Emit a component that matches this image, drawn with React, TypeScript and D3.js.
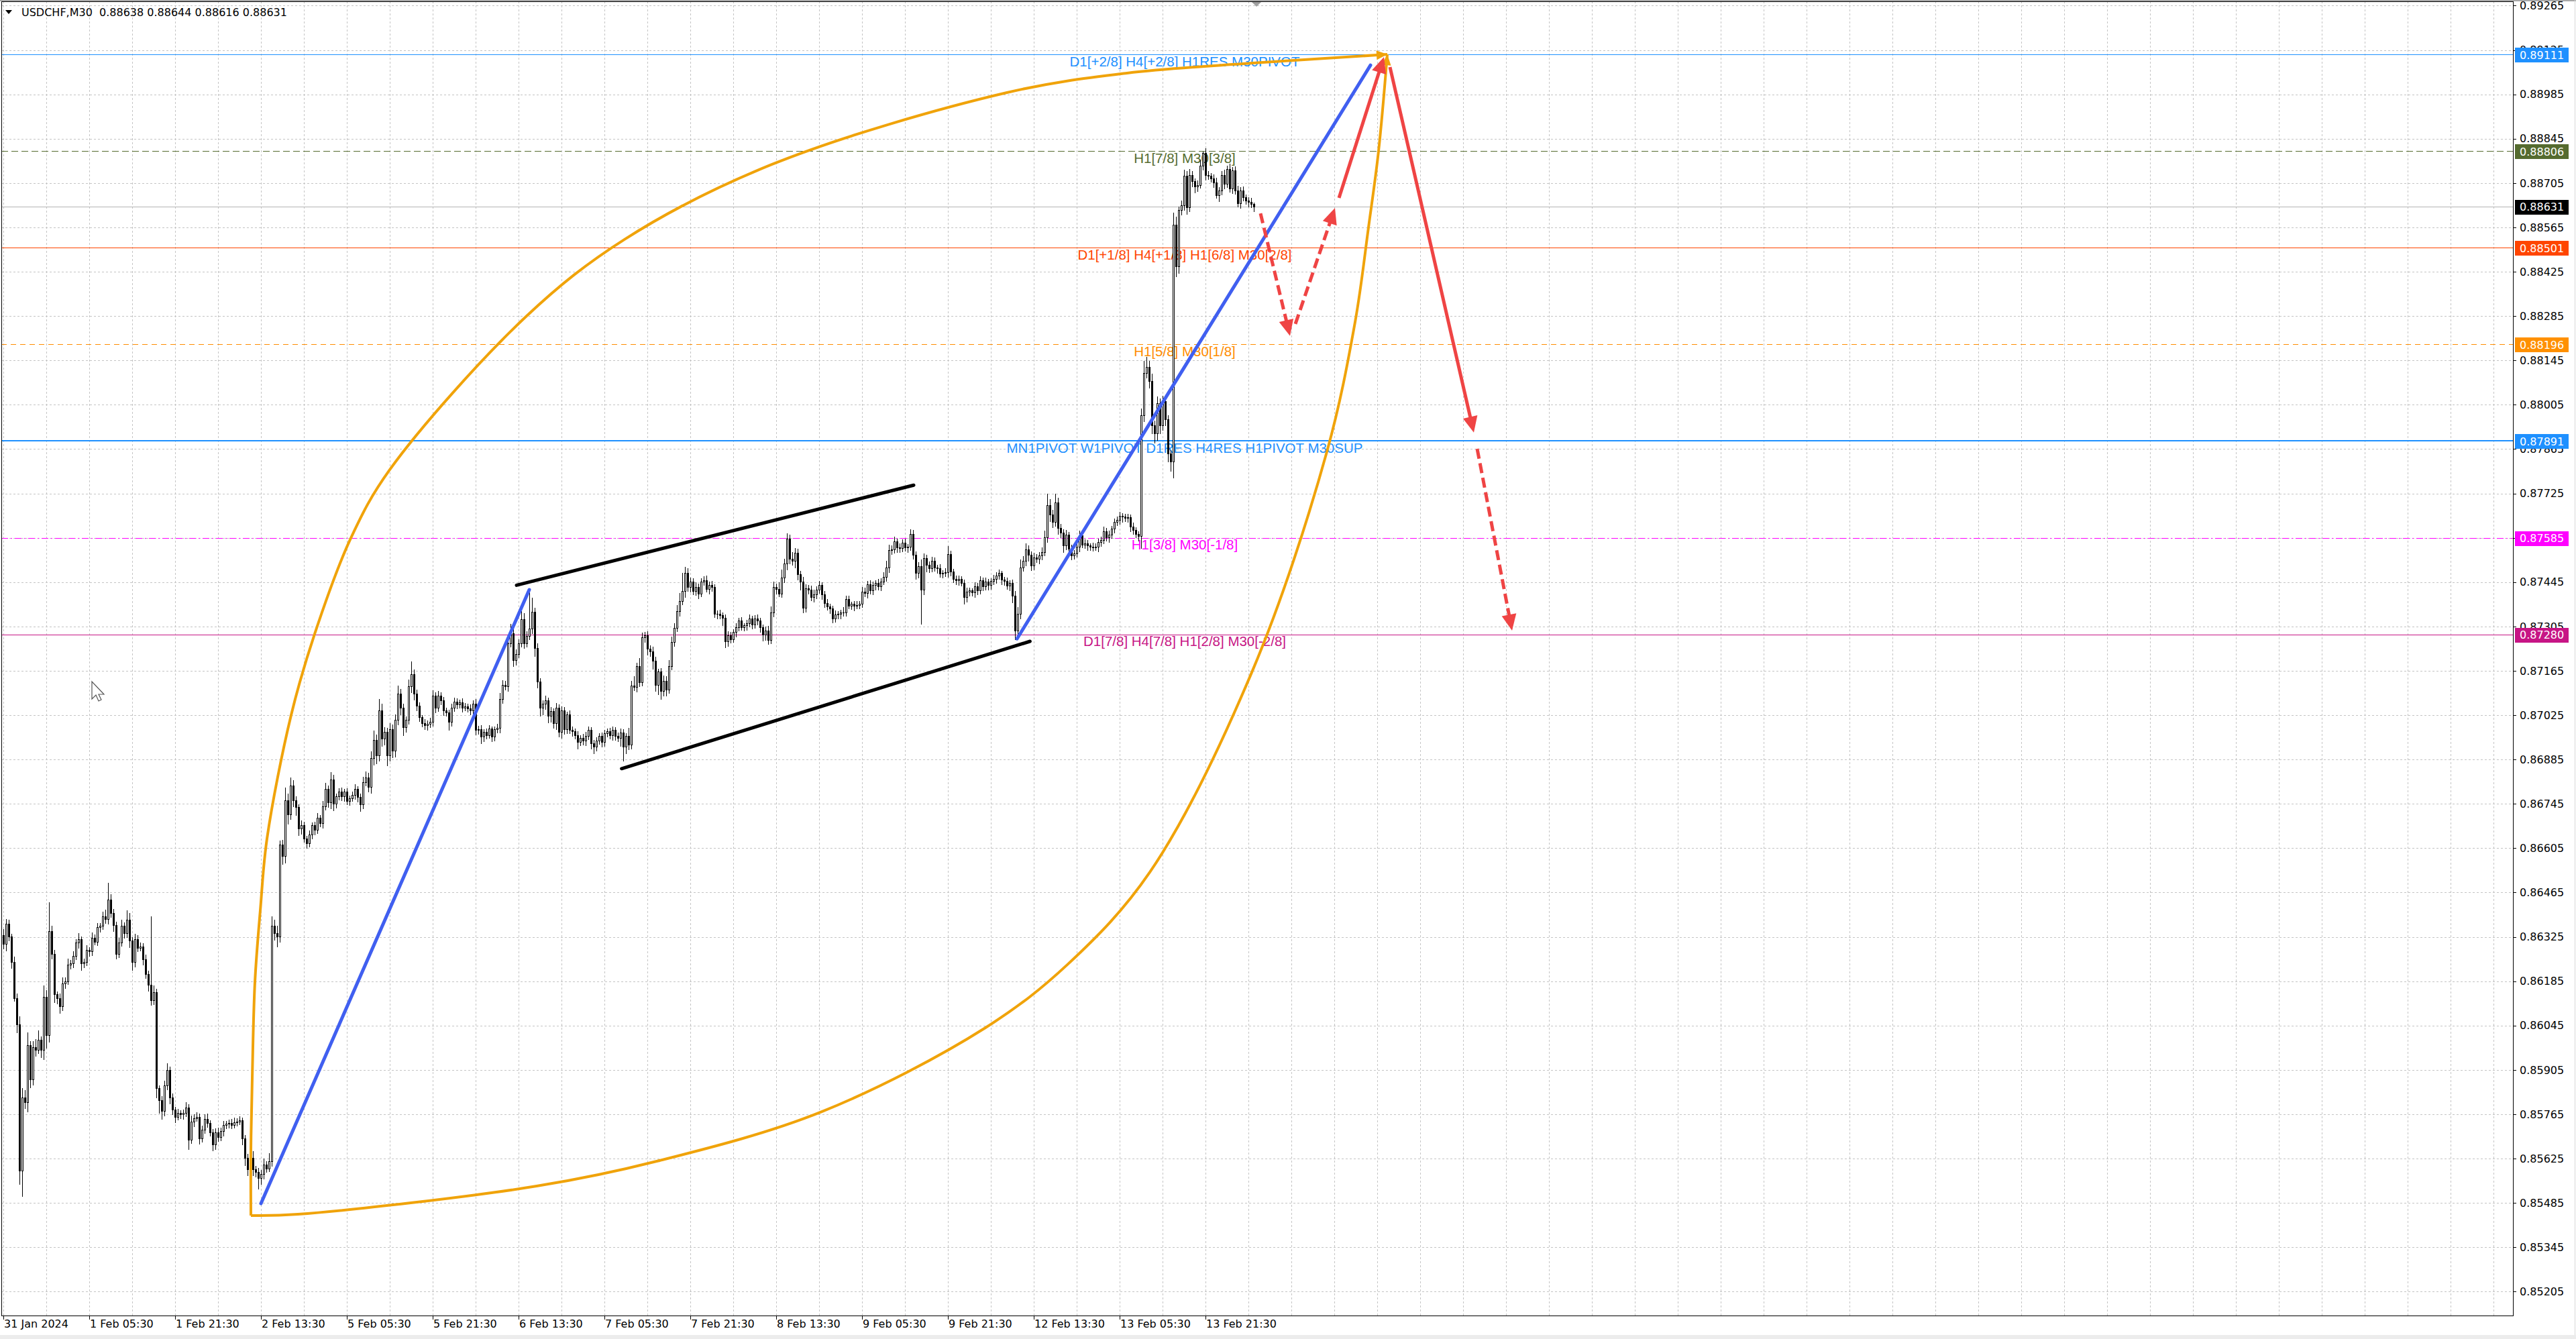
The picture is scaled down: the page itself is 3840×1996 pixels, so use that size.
import React from "react";
import * as d3 from "d3";

const WIDTH = 3840;
const HEIGHT = 1996;

const titleText = "USDCHF,M30  0.88638 0.88644 0.88616 0.88631";

const priceTicks = [0.89265, 0.89125, 0.88985, 0.88845, 0.88705, 0.88565, 0.88425, 0.88285, 0.88145, 0.88005, 0.87865, 0.87725, 0.87585, 0.87445, 0.87305, 0.87165, 0.87025, 0.86885, 0.86745, 0.86605, 0.86465, 0.86325, 0.86185, 0.86045, 0.85905, 0.85765, 0.85625, 0.85485, 0.85345, 0.85205];

const timeLabels = ["31 Jan 2024", "1 Feb 05:30", "1 Feb 21:30", "2 Feb 13:30", "5 Feb 05:30", "5 Feb 21:30", "6 Feb 13:30", "7 Feb 05:30", "7 Feb 21:30", "8 Feb 13:30", "9 Feb 05:30", "9 Feb 21:30", "12 Feb 13:30", "13 Feb 05:30", "13 Feb 21:30"];
const timeLabelBars = [0, 32, 64, 96, 128, 160, 192, 224, 256, 288, 320, 352, 384, 416, 448];

// candle data: price = 0.8 + v / 100000
const FIRST_OPEN = 6330;
const CLOSE = [
  6302, 6366, 6325, 6245, 6132, 6048, 5587, 5818, 5803, 5984,
  5874, 5977, 5969, 6000, 5969, 6136, 6014, 6344, 6272, 6143,
  6132, 6105, 6177, 6185, 6238, 6241, 6264, 6306, 6317, 6241,
  6245, 6283, 6279, 6321, 6310, 6355, 6359, 6389, 6381, 6442,
  6400, 6363, 6272, 6306, 6359, 6336, 6378, 6313, 6245, 6317,
  6291, 6294, 6253, 6207, 6173, 6124, 6151, 5848, 5810, 5776,
  5856, 5905, 5818, 5780, 5757, 5768, 5765, 5768, 5787, 5685,
  5742, 5753, 5757, 5689, 5716, 5750, 5738, 5708, 5670, 5708,
  5693, 5712, 5731, 5735, 5738, 5731, 5740, 5742, 5746, 5689,
  5628, 5591, 5628, 5591, 5583, 5564, 5576, 5606, 5594, 5617,
  6359, 6336, 6325, 6616, 6580, 6757, 6711, 6802, 6757, 6734,
  6666, 6677, 6636, 6620, 6647, 6677, 6662, 6700, 6685, 6738,
  6791, 6749, 6821, 6745, 6768, 6783, 6768, 6783, 6753, 6763,
  6772, 6791, 6766, 6743, 6813, 6828, 6798, 6889, 6946, 6897,
  7040, 6950, 6972, 6897, 6980, 6912, 7010, 7093, 7048, 6987,
  7010, 7116, 7154, 7093, 7055, 7018, 7000, 6993, 6997, 7003,
  7086, 7048, 7086, 7071, 7040, 7033, 7003, 7048, 7068, 7058,
  7065, 7048, 7053, 7046, 7040, 7061, 6978, 6981, 6957, 6972,
  6962, 6982, 6957, 6980, 6985, 7076, 7121, 7116, 7252, 7283,
  7199, 7217, 7252, 7328, 7252, 7275, 7298, 7351, 7237, 7131,
  7048, 7060, 7071, 7022, 7038, 7000, 7048, 6972, 7040, 6980,
  7028, 6978, 6975, 6962, 6940, 6952, 6944, 6959, 6978, 6937,
  6925, 6944, 6959, 6940, 6967, 6975, 6962, 6978, 6959, 6952,
  6970, 6925, 6959, 6932, 7118, 7114, 7179, 7129, 7270, 7277,
  7235, 7227, 7197, 7121, 7162, 7101, 7134, 7106, 7179, 7255,
  7300, 7353, 7386, 7417, 7474, 7429, 7447, 7417, 7429, 7409,
  7447, 7451, 7424, 7436, 7429, 7345, 7345, 7341, 7333, 7258,
  7277, 7265, 7288, 7303, 7323, 7303, 7308, 7315, 7330, 7311,
  7330, 7323, 7303, 7280, 7292, 7262, 7348, 7429, 7424, 7409,
  7459, 7504, 7582, 7519, 7512, 7538, 7470, 7447, 7364, 7426,
  7421, 7398, 7406, 7421, 7436, 7406, 7379, 7368, 7361, 7330,
  7343, 7345, 7348, 7350, 7391, 7371, 7376, 7371, 7373, 7376,
  7415, 7411, 7439, 7418, 7436, 7443, 7432, 7447, 7461, 7492,
  7545, 7548, 7573, 7555, 7552, 7569, 7555, 7557, 7597, 7531,
  7475, 7496, 7422, 7520, 7499, 7489, 7513, 7492, 7489, 7471,
  7473, 7476, 7534, 7478, 7454, 7451, 7455, 7443, 7397, 7415,
  7418, 7413, 7432, 7418, 7450, 7432, 7447, 7436, 7448, 7455,
  7466, 7473, 7452, 7448, 7434, 7443, 7401, 7292, 7345, 7492,
  7513, 7548, 7532, 7497, 7522, 7518, 7529, 7539, 7587, 7688,
  7658, 7634, 7697, 7616, 7602, 7560, 7594, 7550, 7529, 7536,
  7557, 7592, 7564, 7567, 7560, 7557, 7555, 7557, 7571, 7578,
  7606, 7587, 7595, 7613, 7634, 7641, 7655, 7651, 7648, 7649,
  7620, 7609, 7596, 7590, 7972, 8105, 8124, 8079, 7940, 7914,
  8010, 7940, 8016, 7960, 7851, 7826, 8574, 8441, 8619, 8635,
  8727, 8628, 8730, 8710, 8695, 8699, 8759, 8800, 8730, 8727,
  8720, 8706, 8667, 8681, 8731, 8702, 8748, 8688, 8745, 8681,
  8642, 8681, 8660, 8650, 8645, 8638, 8631,
];
const WICK_UP = [
  20, 15, 12, 10, 18, 14, 25, 30, 22, 40,
  12, 18, 25, 30, 10, 35, 20, 90, 15, 12,
  10, 14, 20, 12, 18, 10, 15, 12, 20, 8,
  12, 15, 10, 18, 12, 14, 10, 16, 22, 53,
  18, 12, 10, 15, 20, 12, 30, 22, 10, 18,
  14, 12, 10, 15, 12, 216, 20, 10, 8, 12,
  15, 20, 10, 12, 8, 14, 10, 12, 15, 10,
  18, 12, 15, 10, 12, 14, 16, 8, 10, 12,
  14, 10, 12, 8, 10, 12, 15, 10, 12, 8,
  10, 12, 15, 20, 10, 12, 14, 18, 10, 25,
  30, 20, 25, 12, 15, 40, 20, 25, 18, 12,
  10, 15, 12, 8, 14, 10, 12, 16, 10, 15,
  20, 12, 25, 15, 10, 12, 14, 10, 12, 8,
  12, 15, 10, 12, 18, 20, 14, 22, 30, 18,
  35, 20, 15, 12, 20, 15, 18, 25, 15, 12,
  10, 22, 40, 15, 12, 10, 8, 12, 10, 14,
  18, 12, 15, 10, 12, 8, 10, 14, 12, 10,
  8, 12, 10, 8, 12, 10, 14, 10, 12, 8,
  10, 12, 8, 10, 12, 18, 15, 12, 25, 30,
  20, 15, 12, 25, 18, 15, 115, 45, 12, 15,
  10, 12, 15, 10, 12, 8, 15, 10, 12, 10,
  8, 12, 10, 8, 12, 10, 14, 12, 10, 8,
  10, 12, 8, 10, 12, 8, 10, 12, 8, 10,
  12, 10, 8, 25, 15, 30, 12, 25, 15, 10,
  12, 10, 15, 12, 10, 12, 15, 14, 20, 18,
  15, 20, 25, 58, 20, 15, 12, 10, 15, 12,
  10, 12, 14, 10, 12, 8, 10, 12, 8, 10,
  12, 10, 8, 12, 10, 12, 8, 10, 12, 8,
  10, 12, 10, 8, 12, 15, 20, 18, 12, 20,
  25, 15, 18, 12, 20, 15, 12, 10, 15, 12,
  10, 12, 15, 10, 12, 8, 10, 12, 8, 10,
  12, 8, 10, 15, 12, 10, 8, 10, 12, 10,
  15, 12, 10, 12, 10, 8, 12, 10, 15, 20,
  18, 12, 15, 10, 12, 10, 12, 8, 15, 12,
  10, 12, 20, 15, 12, 10, 12, 10, 8, 12,
  10, 12, 25, 10, 8, 12, 10, 8, 10, 12,
  10, 8, 12, 10, 14, 10, 12, 8, 10, 12,
  10, 12, 8, 10, 12, 8, 10, 15, 20, 25,
  15, 20, 12, 10, 15, 12, 10, 15, 20, 35,
  20, 15, 26, 15, 12, 10, 15, 10, 12, 10,
  12, 15, 10, 12, 10, 8, 12, 10, 12, 10,
  15, 10, 12, 10, 12, 10, 12, 8, 10, 12,
  10, 12, 8, 10, 20, 38, 32, 20, 25, 15,
  20, 15, 18, 15, 12, 10, 38, 25, 12, 15,
  20, 15, 18, 12, 10, 15, 20, 5, 15, 12,
  10, 12, 15, 10, 12, 15, 12, 18, 10, 12,
  15, 10, 12, 8, 10, 12, 6,
];
const WICK_DN = [
  15, 20, 12, 18, 10, 25, 42, 80, 20, 30,
  25, 15, 20, 12, 25, 30, 40, 20, 15, 25,
  18, 20, 12, 15, 10, 14, 12, 10, 15, 20,
  12, 10, 15, 12, 10, 12, 14, 10, 12, 15,
  12, 20, 15, 12, 10, 14, 12, 20, 25, 15,
  12, 10, 15, 12, 18, 15, 12, 30, 40, 25,
  15, 12, 20, 15, 18, 10, 12, 15, 10, 30,
  12, 15, 10, 18, 12, 10, 14, 12, 20, 15,
  12, 10, 14, 10, 12, 10, 8, 12, 10, 20,
  25, 20, 30, 18, 15, 34, 20, 15, 12, 10,
  15, 20, 30, 15, 25, 20, 30, 15, 20, 25,
  20, 15, 12, 15, 10, 12, 15, 10, 12, 15,
  12, 15, 18, 20, 12, 10, 12, 15, 10, 12,
  10, 12, 15, 20, 12, 10, 15, 18, 20, 25,
  15, 22, 18, 30, 15, 20, 18, 15, 20, 25,
  15, 12, 18, 20, 15, 12, 10, 12, 15, 10,
  12, 15, 10, 12, 15, 10, 25, 12, 10, 12,
  10, 12, 8, 10, 12, 10, 15, 12, 20, 15,
  12, 10, 15, 12, 10, 15, 12, 10, 15, 12,
  20, 15, 10, 12, 15, 12, 10, 15, 25, 20,
  25, 20, 15, 20, 18, 15, 20, 15, 18, 15,
  12, 10, 15, 12, 20, 10, 12, 15, 10, 18,
  20, 12, 10, 15, 12, 10, 12, 15, 12, 10,
  25, 44, 20, 15, 12, 10, 15, 12, 10, 15,
  20, 15, 25, 20, 30, 25, 15, 20, 12, 10,
  12, 10, 15, 12, 20, 12, 15, 10, 12, 15,
  10, 12, 10, 15, 12, 10, 15, 12, 25, 20,
  15, 12, 10, 15, 12, 10, 12, 15, 10, 12,
  10, 12, 15, 20, 18, 12, 10, 12, 15, 10,
  12, 15, 20, 15, 12, 20, 18, 25, 15, 12,
  12, 10, 15, 12, 10, 15, 12, 10, 15, 12,
  10, 12, 15, 10, 12, 10, 12, 15, 10, 12,
  10, 12, 15, 10, 12, 15, 10, 12, 10, 12,
  15, 12, 10, 15, 12, 10, 12, 15, 10, 12,
  20, 15, 109, 15, 20, 12, 10, 12, 15, 10,
  12, 10, 15, 12, 10, 12, 15, 10, 20, 15,
  12, 10, 15, 12, 10, 12, 10, 15, 12, 10,
  12, 10, 15, 12, 10, 15, 20, 28, 20, 15,
  12, 15, 20, 15, 12, 10, 15, 12, 10, 15,
  20, 15, 12, 20, 15, 20, 12, 15, 12, 10,
  12, 15, 10, 12, 15, 10, 12, 10, 15, 12,
  10, 12, 15, 10, 12, 10, 12, 15, 10, 12,
  15, 12, 10, 15, 38, 20, 15, 20, 25, 30,
  20, 25, 15, 20, 25, 30, 51, 30, 20, 15,
  15, 20, 12, 15, 20, 15, 10, 12, 15, 10,
  12, 15, 10, 20, 12, 15, 10, 12, 15, 10,
  12, 15, 10, 12, 15, 10, 15,
];

// horizontal level lines (Murrey / pivot levels)
const levelPrices = [0.89111, 0.88806, 0.88501, 0.88196, 0.87891, 0.87585, 0.8728];
const levelNames = [
  "D1[+2/8] H4[+2/8] H1RES M30PIVOT",
  "H1[7/8] M30[3/8]",
  "D1[+1/8] H4[+1/8] H1[6/8] M30[2/8]",
  "H1[5/8] M30[1/8]",
  "MN1PIVOT W1PIVOT D1RES H4RES H1PIVOT M30SUP",
  "H1[3/8] M30[-1/8]",
  "D1[7/8] H4[7/8] H1[2/8] M30[-2/8]",
];
const levelColors = ["#1e90ff", "#556b2f", "#ff4500", "#ff8c00", "#1e90ff", "#ff00ff", "#c71585"];
const levelDash = ["", "10,5", "", "8,6", "", "10,4,2,4", ""];
const levelWidth = [1, 1, 1, 1, 2, 1, 1];
const LEVEL_LABEL_BAR = 440.25;

// right-axis price boxes
const boxPrices = [0.89111, 0.88806, 0.88631, 0.88501, 0.88196, 0.87891, 0.87585, 0.8728];
const boxColors = ["#1e90ff", "#556b2f", "#000000", "#ff4500", "#ff9000", "#1e90ff", "#ff00ff", "#c71585"];
const BID = 0.88631;

// drawn objects, anchored at [bar, price]
const blueTrend = [
  [[96, 0.85483], [196, 0.87421]],
  [[377.75, 0.87266], [509.5, 0.89077]],
];
const channelLines = [
  [[191.25, 0.87435], [339.25, 0.87751]],
  [[230.4, 0.86856], [382.6, 0.87258]],
];
const arcUpper = [
  [92.25, 0.85445], [92.25, 0.85653], [92.75, 0.85879], [93.75, 0.86182], [95.75, 0.86409],
  [98.25, 0.86635], [107.25, 0.87025], [116, 0.87281], [129.5, 0.87584], [144, 0.878],
  [194.75, 0.88283], [231.5, 0.88527], [286.5, 0.88764], [373.75, 0.8899], [418.75, 0.89052],
  [466.5, 0.89084], [515.75, 0.89111],
];
const arcLower = [
  [92.25, 0.85445], [109.75, 0.85449], [198.75, 0.85538], [243.75, 0.85617], [305, 0.85773],
  [366, 0.86038], [396.75, 0.86239], [427.25, 0.86529], [465.5, 0.87165], [493.25, 0.87857],
  [503.75, 0.88266], [508.75, 0.88565], [512.5, 0.88806], [515.75, 0.89111],
];
const redArrows = [
  { from: [468.5, 0.88609], to: [479.5, 0.88222], dashed: true },
  { from: [481.5, 0.8826], to: [496.25, 0.88626], dashed: true },
  { from: [497.75, 0.88658], to: [514.5, 0.89103], dashed: false },
  { from: [516.75, 0.89071], to: [548, 0.87917], dashed: false },
  { from: [549.25, 0.87866], to: [562.25, 0.87292], dashed: true },
];

const P = (v: number) => 0.8 + v / 100000;

const plot = { left: 2, top: 2, right: 3746, bottom: 1961 };
const x = d3.scaleLinear().domain([0, 466]).range([5, 5 + 4 * 466]);
const y = d3.scaleLinear().domain([0.85205, 0.89265]).range([1925.3, 8.4]);

const AXIS_FONT = "'DejaVu Sans', Verdana, sans-serif";
const LABEL_FONT = "'Liberation Sans', Arial, sans-serif";

function Arrow({ x1, y1, x2, y2, color, width, dashed, head = 24, half = 11 }: any) {
  const dx = x2 - x1, dy = y2 - y1;
  const len = Math.hypot(dx, dy);
  const ux = dx / len, uy = dy / len;
  const bx = x2 - ux * head, by = y2 - uy * head;
  const px = -uy, py = ux;
  return (
    <g>
      <line x1={x1} y1={y1} x2={bx + ux * 2} y2={by + uy * 2} stroke={color} strokeWidth={width}
        strokeDasharray={dashed ? "15,7" : undefined} />
      <polygon points={`${x2},${y2} ${bx + px * half},${by + py * half} ${bx - px * half},${by - py * half}`} fill={color} />
    </g>
  );
}

export default function App() {
  const candles = CLOSE.map((c, i) => {
    const o = i === 0 ? FIRST_OPEN : CLOSE[i - 1];
    return {
      i,
      o: P(o),
      c: P(c),
      h: P(Math.max(o, c) + WICK_UP[i]),
      l: P(Math.min(o, c) - WICK_DN[i]),
    };
  });

  const vGrid = d3.range(0, 59).map((k) => k * 16);
  const lineGen = d3.line<number[]>().x((d) => x(d[0])).y((d) => y(d[1])).curve(d3.curveCatmullRom.alpha(0.5));

  const arcEnd = (pts: number[][]) => {
    const a = pts[pts.length - 2], b = pts[pts.length - 1];
    const x2 = x(b[0]), y2 = y(b[1]);
    const x1 = x(a[0]), y1 = y(a[1]);
    const dx = x2 - x1, dy = y2 - y1, L = Math.hypot(dx, dy);
    const ux = dx / L, uy = dy / L;
    const bx = x2 - ux * 16, by = y2 - uy * 16;
    return `${x2},${y2} ${bx - uy * 7},${by + ux * 7} ${bx + uy * 7},${by - ux * 7}`;
  };

  return (
    <div style={{ position: "absolute", left: 0, top: 0, width: WIDTH, height: HEIGHT, background: "#fff" }}>
      <svg width={WIDTH} height={HEIGHT} style={{ display: "block" }}>
        <rect x={0} y={0} width={WIDTH} height={HEIGHT} fill="#ffffff" />
        {/* outer window edges */}
        <rect x={0} y={0} width={WIDTH} height={2} fill="#a8a8a8" />
        <rect x={0} y={1990} width={WIDTH} height={6} fill="#ececec" />
        <line x1={3838.5} x2={3838.5} y1={0} y2={1990} stroke="#d8d8d8" />

        {/* grid */}
        <g shapeRendering="crispEdges">
          {priceTicks.map((p) => (
            <line key={"hg" + p} x1={plot.left} x2={plot.right} y1={Math.round(y(p)) + 0.5} y2={Math.round(y(p)) + 0.5}
              stroke="#c4c4c4" strokeDasharray="3,3" />
          ))}
          {vGrid.map((b) => (
            <line key={"vg" + b} x1={Math.round(x(b)) + 0.5} x2={Math.round(x(b)) + 0.5} y1={plot.top} y2={plot.bottom}
              stroke="#c4c4c4" strokeDasharray="3,3" />
          ))}
        </g>

        {/* level lines */}
        <g shapeRendering="crispEdges">
          <line x1={plot.left} x2={plot.right} y1={Math.round(y(BID)) + 0.5} y2={Math.round(y(BID)) + 0.5} stroke="#b4b4b4" />
          {levelPrices.map((p, k) => (
            <line key={"lv" + k} x1={plot.left} x2={plot.right}
              y1={Math.round(y(p)) + (levelWidth[k] === 2 ? 0 : 0.5)} y2={Math.round(y(p)) + (levelWidth[k] === 2 ? 0 : 0.5)}
              stroke={levelColors[k]} strokeWidth={levelWidth[k]} strokeDasharray={levelDash[k] || undefined} />
          ))}
        </g>
        {levelPrices.map((p, k) => (
          <text key={"lt" + k} x={x(LEVEL_LABEL_BAR)} y={y(p) + 17.5} textAnchor="middle" fill={levelColors[k]}
            fontSize={20.5} fontFamily={LABEL_FONT}>{levelNames[k]}</text>
        ))}

        {/* candles */}
        <g shapeRendering="crispEdges">
          {candles.map((d) => {
            const cx = Math.round(x(d.i));
            const yt = Math.round(y(Math.max(d.o, d.c)));
            const yb = Math.round(y(Math.min(d.o, d.c)));
            const bull = d.c >= d.o;
            return (
              <g key={"c" + d.i}>
                <line x1={cx + 0.5} x2={cx + 0.5} y1={Math.round(y(d.h))} y2={Math.round(y(d.l)) + 1} stroke="#000" />
                {yb - yt < 1 ? (
                  <line x1={cx - 1} x2={cx + 2} y1={yt + 0.5} y2={yt + 0.5} stroke="#000" />
                ) : (
                  <rect x={cx - 0.5} y={yt + 0.5} width={2} height={yb - yt} fill={bull ? "#fff" : "#000"} stroke="#000" />
                )}
              </g>
            );
          })}
        </g>

        {/* orange arcs */}
        <path d={lineGen(arcUpper) || ""} fill="none" stroke="#f0a30a" strokeWidth={4} />
        <path d={lineGen(arcLower) || ""} fill="none" stroke="#f0a30a" strokeWidth={4} />
        <polygon points={arcEnd(arcUpper)} fill="#f0a30a" />
        <polygon points={arcEnd(arcLower)} fill="#f0a30a" />

        {/* channel */}
        {channelLines.map((seg, k) => (
          <line key={"ch" + k} x1={x(seg[0][0])} y1={y(seg[0][1])} x2={x(seg[1][0])} y2={y(seg[1][1])}
            stroke="#000" strokeWidth={5} strokeLinecap="round" />
        ))}
        {/* blue trend lines */}
        {blueTrend.map((seg, k) => (
          <line key={"bt" + k} x1={x(seg[0][0])} y1={y(seg[0][1])} x2={x(seg[1][0])} y2={y(seg[1][1])}
            stroke="#405ff0" strokeWidth={5} strokeLinecap="round" />
        ))}
        {/* red arrows */}
        {redArrows.map((a, k) => (
          <Arrow key={"ra" + k} x1={x(a.from[0])} y1={y(a.from[1])} x2={x(a.to[0])} y2={y(a.to[1])}
            color="#ef4444" width={5} dashed={a.dashed} />
        ))}

        {/* cursor */}
        <path d="M137,1016 L137,1042 L143,1036 L147,1045 L151,1043 L147,1035 L155,1035 Z" fill="#fff" stroke="#555" strokeWidth={1.2} />

        {/* chart frame */}
        <rect x={plot.left + 0.5} y={plot.top + 0.5} width={plot.right - plot.left} height={plot.bottom - plot.top}
          fill="none" stroke="#000" shapeRendering="crispEdges" />
        {/* chart-shift marker */}
        <polygon points="1866,3 1880,3 1873,10" fill="#a0a0a0" />

        {/* title */}
        <polygon points="8,15 18,15 13,21" fill="#000" />
        <text x={32} y={24} fontSize={16} fontFamily={AXIS_FONT} fill="#000" style={{ whiteSpace: "pre" }}>{titleText}</text>

        {/* right price axis */}
        <g shapeRendering="crispEdges">
          {priceTicks.map((p) => (
            <line key={"pt" + p} x1={plot.right} x2={plot.right + 5} y1={Math.round(y(p)) + 0.5} y2={Math.round(y(p)) + 0.5} stroke="#000" />
          ))}
        </g>
        {priceTicks.map((p) => (
          <text key={"pl" + p} x={3756} y={y(p)} dy="0.36em" fontSize={16} fontFamily={AXIS_FONT} fill="#000">{p.toFixed(5)}</text>
        ))}
        {boxPrices.map((p, k) => (
          <g key={"bx" + k}>
            <rect x={3749} y={Math.round(y(p)) - 10} width={80} height={22} fill={boxColors[k]} />
            <text x={3756} y={y(p) + 1} dy="0.36em" fontSize={16} fontFamily={AXIS_FONT} fill="#fff">{p.toFixed(5)}</text>
          </g>
        ))}

        {/* bottom time axis */}
        <g shapeRendering="crispEdges">
          {timeLabelBars.map((b) => (
            <line key={"tt" + b} x1={Math.round(x(b)) + 0.5} x2={Math.round(x(b)) + 0.5} y1={plot.bottom} y2={plot.bottom + 6} stroke="#000" />
          ))}
        </g>
        {timeLabels.map((t, k) => (
          <text key={"tl" + k} x={Math.round(x(timeLabelBars[k])) + 1} y={1979} fontSize={16} fontFamily={AXIS_FONT} fill="#000">{t}</text>
        ))}
      </svg>
    </div>
  );
}
